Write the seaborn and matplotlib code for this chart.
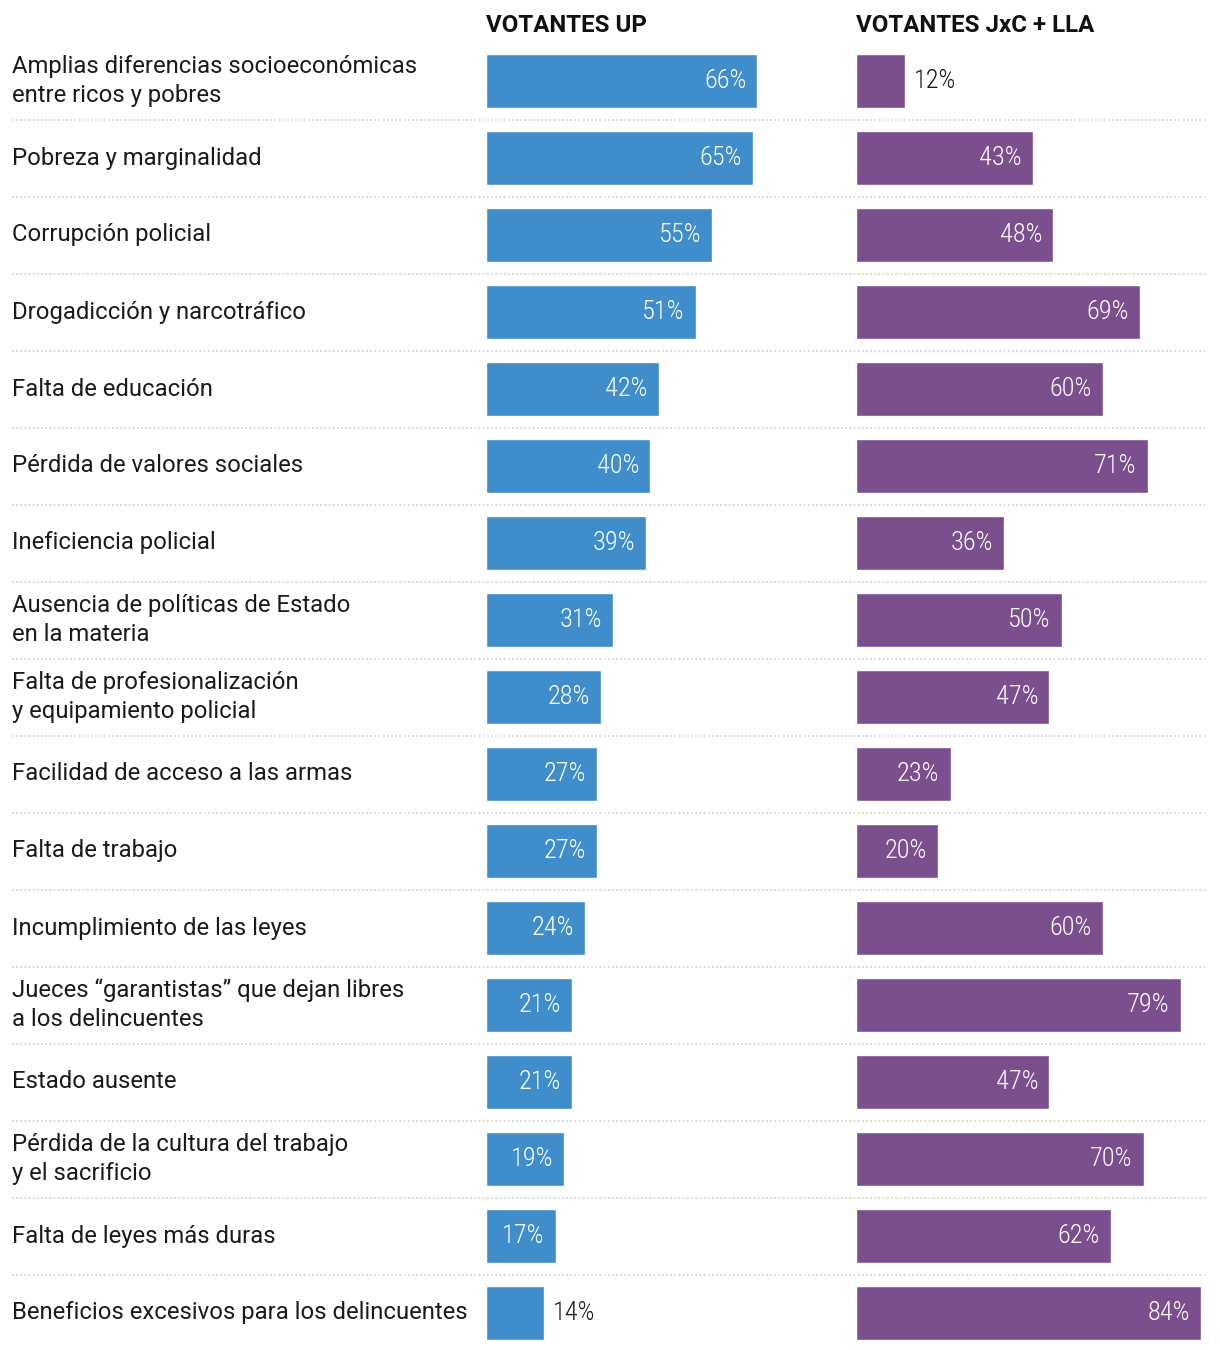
import matplotlib
matplotlib.use("Agg")
import matplotlib.pyplot as plt
import seaborn as sns
import pandas as pd
from matplotlib import font_manager as fm

categories = [
    "Amplias diferencias socioeconómicas\nentre ricos y pobres",
    "Pobreza y marginalidad",
    "Corrupción policial",
    "Drogadicción y narcotráfico",
    "Falta de educación",
    "Pérdida de valores sociales",
    "Ineficiencia policial",
    "Ausencia de políticas de Estado\nen la materia",
    "Falta de profesionalización\ny equipamiento policial",
    "Facilidad de acceso a las armas",
    "Falta de trabajo",
    "Incumplimiento de las leyes",
    "Jueces “garantistas” que dejan libres\na los delincuentes",
    "Estado ausente",
    "Pérdida de la cultura del trabajo\ny el sacrificio",
    "Falta de leyes más duras",
    "Beneficios excesivos para los delincuentes",
]
votantes_up = [66, 65, 55, 51, 42, 40, 39, 31, 28, 27, 27, 24, 21, 21, 19, 17, 14]
votantes_jxc_lla = [12, 43, 48, 69, 60, 71, 36, 50, 47, 23, 20, 60, 79, 47, 70, 62, 84]
panel_titles = ["VOTANTES UP", "VOTANTES JxC + LLA"]

sns.set_theme(style="white")
avail = {f.name for f in fm.fontManager.ttflist}
value_fams = [f for f in ["Roboto Condensed", "Liberation Sans Narrow", "Roboto"] if f in avail] + ["DejaVu Sans"]
plt.rcParams["font.family"] = ["Roboto", "DejaVu Sans"]

W, H = 1220, 1350
fig = plt.figure(figsize=(W / 100, H / 100), dpi=100)

n = len(categories)
step = 77.0
top_px = 81 - step / 2
height_px = n * step
bottom_frac = 1 - (top_px + height_px) / H
h_frac = height_px / H

df_up = pd.DataFrame({"cat": categories, "val": votantes_up})
df_jx = pd.DataFrame({"cat": categories, "val": votantes_jxc_lla})

# background axes for separators and labels
bg = fig.add_axes([0, bottom_frac, 1, h_frac])
bg.set_xlim(0, W)
bg.set_ylim(n - 0.5, -0.5)
bg.axis("off")
for i in range(n - 1):
    bg.hlines(i + 0.5, 12, 1208, colors="#cfcfcf", linestyles=(0, (1, 1.5)), linewidth=1.2)
for i, c in enumerate(categories):
    bg.text(12, i, c, ha="left", va="center", fontsize=17.2, color="#1a1a1a",
            linespacing=1.32)

px_per = 4.11
panels = [(486, df_up, "#3f8ecb", panel_titles[0]), (856, df_jx, "#7b4f8e", panel_titles[1])]
for x0, df, col, title in panels:
    xmax = 88
    ax = fig.add_axes([x0 / W, bottom_frac, xmax * px_per / W, h_frac])
    sns.barplot(data=df, y="cat", x="val", orient="h", color=col, saturation=1,
                width=54 / step, ax=ax)
    ax.set_xlim(0, xmax)
    ax.set_ylim(n - 0.5, -0.5)
    ax.axis("off")
    for i, v in enumerate(df["val"]):
        if v >= 16:
            ax.text(v - 11 / px_per, i, f"{v}%", ha="right", va="center",
                    fontsize=19, color="white", family=value_fams, fontweight="light")
        else:
            ax.text(v + 9 / px_per, i, f"{v}%", ha="left", va="center",
                    fontsize=19, color="#1a1a1a", family=value_fams, fontweight="light")
    fig.text(x0 / W, 1 - 26 / H, title, ha="left", va="center", fontsize=17.3,
             fontweight="bold", color="#111111")

fig.savefig("out.png", dpi=100)
